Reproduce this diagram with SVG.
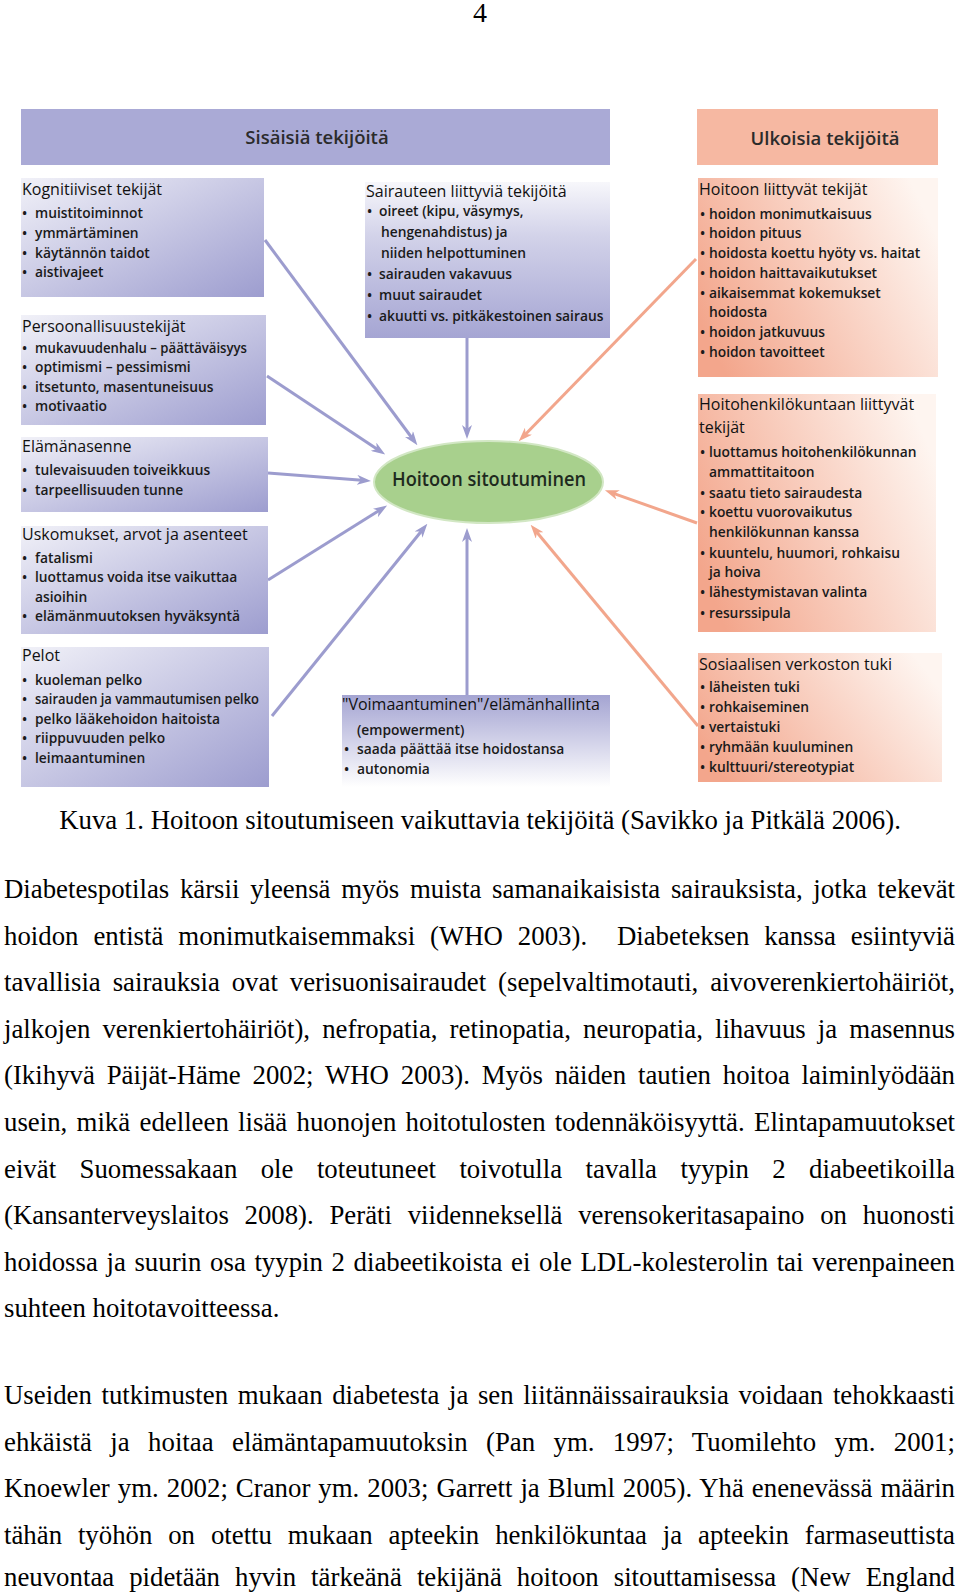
<svg xmlns="http://www.w3.org/2000/svg" width="960" height="1593" viewBox="0 0 960 1593">
<style>
.hd{font-family:"Open Sans","Noto Sans",sans-serif;font-size:18.5px;font-weight:600;fill:#2b2b2b;text-anchor:middle}
.t{font-family:"Open Sans","Noto Sans",sans-serif;font-size:16px;font-weight:500;fill:#111}
.i{font-family:"Open Sans","Noto Sans",sans-serif;font-size:13.8px;font-weight:600;fill:#1a1a1a}
.ctr{font-family:"Open Sans","Noto Sans",sans-serif;font-size:20px;font-weight:600;fill:#1e2a1e;text-anchor:middle}
.b{font-family:"Liberation Serif","Times New Roman",serif;font-size:26.8px;fill:#000}
.cb{fill:none;stroke:#9c9cce;stroke-width:3}
.cs{fill:none;stroke:#f2a68c;stroke-width:3}
</style>
<defs>
<linearGradient id="gL" x1="0" y1="0" x2="1" y2="1">
<stop offset="0" stop-color="#f1f1f8"/><stop offset="1" stop-color="#9d9dcf"/>
</linearGradient>
<linearGradient id="gS" x1="0" y1="0" x2="0" y2="1">
<stop offset="0" stop-color="#f7f7fb"/><stop offset="0.35" stop-color="#d2d2e9"/><stop offset="1" stop-color="#a5a5d3"/>
</linearGradient>
<linearGradient id="gV" x1="0" y1="0" x2="0" y2="1">
<stop offset="0" stop-color="#a4a4d2"/><stop offset="1" stop-color="#ffffff"/>
</linearGradient>
<linearGradient id="gR" x1="0" y1="0.7" x2="1" y2="0.3">
<stop offset="0" stop-color="#f3a68c"/><stop offset="1" stop-color="#fef5f0"/>
</linearGradient>
<marker id="aB" markerUnits="userSpaceOnUse" markerWidth="14" markerHeight="10" refX="5" refY="5" orient="auto">
<path d="M0,0 L14,5 L0,10 L4,5 Z" fill="#9c9cce"/>
</marker>
<marker id="aS" markerUnits="userSpaceOnUse" markerWidth="14" markerHeight="10" refX="5" refY="5" orient="auto">
<path d="M0,0 L14,5 L0,10 L4,5 Z" fill="#f2a68c"/>
</marker>
</defs>
<rect width="960" height="1593" fill="#fff"/>

<text class="b" x="480" y="22" text-anchor="middle" style="font-size:28px">4</text>

<g id="sisaisia">
<rect x="21" y="109" width="589" height="56" fill="#aaaad6"/>
<text class="hd" x="317" y="144">Sisäisiä tekijöitä</text>
</g>
<g id="ulkoisia">
<rect x="697" y="109" width="241" height="56" fill="#f6b8a2"/>
<text class="hd" x="825" y="145">Ulkoisia tekijöitä</text>
</g>

<g id="connectors">
<line class="cb" x1="265" y1="240" x2="412" y2="438" marker-end="url(#aB)"/>
<line class="cb" x1="267" y1="376" x2="377.7" y2="449.5" marker-end="url(#aB)"/>
<line class="cb" x1="268" y1="473" x2="362" y2="480.2" marker-end="url(#aB)"/>
<line class="cb" x1="268" y1="580" x2="379.5" y2="510.3" marker-end="url(#aB)"/>
<line class="cb" x1="272" y1="716" x2="421.7" y2="530.8" marker-end="url(#aB)"/>
<line class="cb" x1="467" y1="695" x2="467" y2="537" marker-end="url(#aB)"/>
<line class="cb" x1="467" y1="338" x2="467" y2="430" marker-end="url(#aB)"/>
<line class="cs" x1="696" y1="259" x2="525" y2="434.8" marker-end="url(#aS)"/>
<line class="cs" x1="697" y1="523" x2="613.4" y2="493.3" marker-end="url(#aS)"/>
<line class="cs" x1="698" y1="726" x2="536.4" y2="531.7" marker-end="url(#aS)"/>
</g>

<g id="kognitiiviset">
<rect x="21" y="178" width="243" height="119" fill="url(#gL)"/>
<text class="t" x="22" y="195">Kognitiiviset tekijät</text>
<text class="i" y="218"><tspan x="22">•</tspan><tspan x="35">muistitoiminnot</tspan></text>
<text class="i" y="238"><tspan x="22">•</tspan><tspan x="35">ymmärtäminen</tspan></text>
<text class="i" y="258"><tspan x="22">•</tspan><tspan x="35">käytännön taidot</tspan></text>
<text class="i" y="277"><tspan x="22">•</tspan><tspan x="35">aistivajeet</tspan></text>
</g>

<g id="persoonallisuus">
<rect x="21" y="315" width="245" height="110" fill="url(#gL)"/>
<text class="t" x="22" y="332">Persoonallisuustekijät</text>
<text class="i" y="353"><tspan x="22">•</tspan><tspan x="35" textLength="212" lengthAdjust="spacingAndGlyphs">mukavuudenhalu – päättäväisyys</tspan></text>
<text class="i" y="372"><tspan x="22">•</tspan><tspan x="35">optimismi – pessimismi</tspan></text>
<text class="i" y="391.5"><tspan x="22">•</tspan><tspan x="35">itsetunto, masentuneisuus</tspan></text>
<text class="i" y="411"><tspan x="22">•</tspan><tspan x="35">motivaatio</tspan></text>
</g>

<g id="elamanasenne">
<rect x="21" y="437" width="247" height="75" fill="url(#gL)"/>
<text class="t" x="22" y="452">Elämänasenne</text>
<text class="i" y="475"><tspan x="22">•</tspan><tspan x="35">tulevaisuuden toiveikkuus</tspan></text>
<text class="i" y="495"><tspan x="22">•</tspan><tspan x="35">tarpeellisuuden tunne</tspan></text>
</g>

<g id="uskomukset">
<rect x="21" y="526" width="247" height="108" fill="url(#gL)"/>
<text class="t" x="22" y="540">Uskomukset, arvot ja asenteet</text>
<text class="i" y="563"><tspan x="22">•</tspan><tspan x="35">fatalismi</tspan></text>
<text class="i" y="582"><tspan x="22">•</tspan><tspan x="35">luottamus voida itse vaikuttaa</tspan></text>
<text class="i" x="35" y="602">asioihin</text>
<text class="i" y="621"><tspan x="22">•</tspan><tspan x="35">elämänmuutoksen hyväksyntä</tspan></text>
</g>

<g id="pelot">
<rect x="21" y="647" width="248" height="140" fill="url(#gL)"/>
<text class="t" x="22" y="661">Pelot</text>
<text class="i" y="685"><tspan x="22">•</tspan><tspan x="35">kuoleman pelko</tspan></text>
<text class="i" y="704"><tspan x="22">•</tspan><tspan x="35" textLength="224" lengthAdjust="spacingAndGlyphs">sairauden ja vammautumisen pelko</tspan></text>
<text class="i" y="724"><tspan x="22">•</tspan><tspan x="35">pelko lääkehoidon haitoista</tspan></text>
<text class="i" y="743"><tspan x="22">•</tspan><tspan x="35">riippuvuuden pelko</tspan></text>
<text class="i" y="763"><tspan x="22">•</tspan><tspan x="35">leimaantuminen</tspan></text>
</g>

<g id="sairauteen">
<rect x="365" y="182" width="245" height="156" fill="url(#gS)"/>
<text class="t" x="366" y="197">Sairauteen liittyviä tekijöitä</text>
<text class="i" y="216"><tspan x="367">•</tspan><tspan x="379">oireet (kipu, väsymys,</tspan></text>
<text class="i" x="381" y="237">hengenahdistus) ja</text>
<text class="i" x="381" y="258">niiden helpottuminen</text>
<text class="i" y="279"><tspan x="367">•</tspan><tspan x="379">sairauden vakavuus</tspan></text>
<text class="i" y="300"><tspan x="367">•</tspan><tspan x="379">muut sairaudet</tspan></text>
<text class="i" y="321"><tspan x="367">•</tspan><tspan x="379">akuutti vs. pitkäkestoinen sairaus</tspan></text>
</g>

<g id="hoitoon-liittyvat">
<rect x="698" y="178" width="240" height="199" fill="url(#gR)"/>
<text class="t" x="699" y="195">Hoitoon liittyvät tekijät</text>
<text class="i" y="218.5"><tspan x="700">•</tspan><tspan x="709">hoidon monimutkaisuus</tspan></text>
<text class="i" y="238"><tspan x="700">•</tspan><tspan x="709">hoidon pituus</tspan></text>
<text class="i" y="258"><tspan x="700">•</tspan><tspan x="709">hoidosta koettu hyöty vs. haitat</tspan></text>
<text class="i" y="277.5"><tspan x="700">•</tspan><tspan x="709">hoidon haittavaikutukset</tspan></text>
<text class="i" y="297.5"><tspan x="700">•</tspan><tspan x="709">aikaisemmat kokemukset</tspan></text>
<text class="i" x="709" y="317">hoidosta</text>
<text class="i" y="337"><tspan x="700">•</tspan><tspan x="709">hoidon jatkuvuus</tspan></text>
<text class="i" y="356.5"><tspan x="700">•</tspan><tspan x="709">hoidon tavoitteet</tspan></text>
</g>

<g id="hoitohenkilokuntaan">
<rect x="698" y="394" width="238" height="238" fill="url(#gR)"/>
<text class="t" x="699" y="410">Hoitohenkilökuntaan liittyvät</text>
<text class="t" x="699" y="433">tekijät</text>
<text class="i" y="457"><tspan x="700">•</tspan><tspan x="709">luottamus hoitohenkilökunnan</tspan></text>
<text class="i" x="709" y="477">ammattitaitoon</text>
<text class="i" y="498"><tspan x="700">•</tspan><tspan x="709">saatu tieto sairaudesta</tspan></text>
<text class="i" y="517"><tspan x="700">•</tspan><tspan x="709">koettu vuorovaikutus</tspan></text>
<text class="i" x="709" y="537">henkilökunnan kanssa</text>
<text class="i" y="558"><tspan x="700">•</tspan><tspan x="709">kuuntelu, huumori, rohkaisu</tspan></text>
<text class="i" x="709" y="577">ja hoiva</text>
<text class="i" y="597"><tspan x="700">•</tspan><tspan x="709">lähestymistavan valinta</tspan></text>
<text class="i" y="618"><tspan x="700">•</tspan><tspan x="709">resurssipula</tspan></text>
</g>

<g id="sosiaalisen">
<rect x="698" y="653" width="244" height="129" fill="url(#gR)"/>
<text class="t" x="699" y="670">Sosiaalisen verkoston tuki</text>
<text class="i" y="692"><tspan x="700">•</tspan><tspan x="709">läheisten tuki</tspan></text>
<text class="i" y="712"><tspan x="700">•</tspan><tspan x="709">rohkaiseminen</tspan></text>
<text class="i" y="732"><tspan x="700">•</tspan><tspan x="709">vertaistuki</tspan></text>
<text class="i" y="752"><tspan x="700">•</tspan><tspan x="709">ryhmään kuuluminen</tspan></text>
<text class="i" y="772"><tspan x="700">•</tspan><tspan x="709">kulttuuri/stereotypiat</tspan></text>
</g>

<g id="voimaantuminen">
<rect x="342" y="695" width="268" height="92" fill="url(#gV)"/>
<text class="t" x="342" y="710">"Voimaantuminen"/elämänhallinta</text>
<text class="i" x="357" y="735">(empowerment)</text>
<text class="i" y="754"><tspan x="344">•</tspan><tspan x="357">saada päättää itse hoidostansa</tspan></text>
<text class="i" y="774"><tspan x="344">•</tspan><tspan x="357">autonomia</tspan></text>
</g>

<g id="hoitoon-sitoutuminen">
<ellipse cx="488.5" cy="482" rx="114.5" ry="41" fill="#a8d08d" stroke="#d2e7c4" stroke-width="2"/>
<text class="ctr" x="489" y="486" textLength="194" lengthAdjust="spacingAndGlyphs">Hoitoon sitoutuminen</text>
</g>

<g id="body-text">
<text class="b" x="480" y="829" text-anchor="middle">Kuva 1. Hoitoon sitoutumiseen vaikuttavia tekijöitä (Savikko ja Pitkälä 2006).</text>
<text class="b" x="4" y="898" word-spacing="4.0" textLength="951" lengthAdjust="spacing">Diabetespotilas kärsii yleensä myös muista samanaikaisista sairauksista, jotka tekevät</text>
<text class="b" x="4" y="944.6" word-spacing="8.2" textLength="951" lengthAdjust="spacing" style="white-space:pre">hoidon entistä monimutkaisemmaksi (WHO 2003).  Diabeteksen kanssa esiintyviä</text>
<text class="b" x="4" y="991.2" word-spacing="5.2" textLength="951" lengthAdjust="spacing">tavallisia sairauksia ovat verisuonisairaudet (sepelvaltimotauti, aivoverenkiertohäiriöt,</text>
<text class="b" x="4" y="1037.8" word-spacing="5.4" textLength="951" lengthAdjust="spacing">jalkojen verenkiertohäiriöt), nefropatia, retinopatia, neuropatia, lihavuus ja masennus</text>
<text class="b" x="4" y="1084.4" word-spacing="5.1" textLength="951" lengthAdjust="spacing">(Ikihyvä Päijät-Häme 2002; WHO 2003). Myös näiden tautien hoitoa laiminlyödään</text>
<text class="b" x="4" y="1131" word-spacing="2.6" textLength="951" lengthAdjust="spacing">usein, mikä edelleen lisää huonojen hoitotulosten todennäköisyyttä. Elintapamuutokset</text>
<text class="b" x="4" y="1177.6" word-spacing="16.7" textLength="951" lengthAdjust="spacing">eivät Suomessakaan ole toteutuneet toivotulla tavalla tyypin 2 diabeetikoilla</text>
<text class="b" x="4" y="1224.2" word-spacing="9.0" textLength="951" lengthAdjust="spacing">(Kansanterveyslaitos 2008). Peräti viidenneksellä verensokeritasapaino on huonosti</text>
<text class="b" x="4" y="1270.8" word-spacing="1.9" textLength="951" lengthAdjust="spacing">hoidossa ja suurin osa tyypin 2 diabeetikoista ei ole LDL-kolesterolin tai verenpaineen</text>
<text class="b" x="4" y="1317.4">suhteen hoitotavoitteessa.</text>
<text class="b" x="4" y="1404" word-spacing="2.9" textLength="951" lengthAdjust="spacing">Useiden tutkimusten mukaan diabetesta ja sen liitännäissairauksia voidaan tehokkaasti</text>
<text class="b" x="4" y="1450.6" word-spacing="11.6" textLength="951" lengthAdjust="spacing">ehkäistä ja hoitaa elämäntapamuutoksin (Pan ym. 1997; Tuomilehto ym. 2001;</text>
<text class="b" x="4" y="1497.2" word-spacing="1.3" textLength="951" lengthAdjust="spacing">Knoewler ym. 2002; Cranor ym. 2003; Garrett ja Bluml 2005). Yhä enenevässä määrin</text>
<text class="b" x="4" y="1543.8" word-spacing="9.2" textLength="951" lengthAdjust="spacing">tähän työhön on otettu mukaan apteekin henkilökuntaa ja apteekin farmaseuttista</text>
<text class="b" x="4" y="1586" word-spacing="8.3" textLength="951" lengthAdjust="spacing">neuvontaa pidetään hyvin tärkeänä tekijänä hoitoon sitouttamisessa (New England</text>
</g>
</svg>
